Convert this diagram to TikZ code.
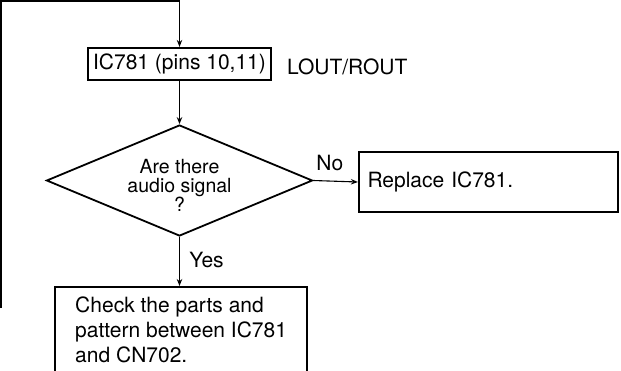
\documentclass[tikz,border=0pt]{standalone}
\usepackage{fontspec}
\setmainfont{TeX Gyre Heros}
\usepackage{tikz}
\usetikzlibrary{calc}
\usetikzlibrary{arrows.meta}
\usetikzlibrary{shapes.geometric}
\tikzset{
 box/.style={draw, line width=2.2pt, inner sep=0},
 flow/.style={line width=1.1pt, -{Stealth[length=7pt,width=5.5pt]}},
}

\begin{document}
\begin{tikzpicture}[x=1pt, y=-1pt, font=\fontsize{21}{25}\selectfont]
\useasboundingbox (0,0) rectangle (621,370);
\node[box, minimum width=183pt, minimum height=32pt] (pins) at (179.5,64) {IC781 (pins 10,11)};
\node[anchor=base west, inner sep=0] (lout) at (287,74) {LOUT/ROUT};
\node[draw, diamond, line width=1.8pt, minimum width=266pt, minimum height=111pt, inner sep=0]
 (sig) at (179.5,180.5) {};
\node[align=center, inner sep=0, font=\fontsize{19.5}{19}\selectfont] (sigtxt) at ($(sig)+(0,5)$)
 {Are there\\audio signal\\?};
\node[box, minimum width=259pt, minimum height=60pt, inner xsep=8.5pt, text width=242pt, align=left]
 (rep) at (488.5,182) {Replace IC781.};
\node[box, anchor=north west, minimum width=252pt, inner ysep=10pt, text depth=20pt, align=left]
 (chk) at (54,286) {Check the parts and\\pattern between IC781\\and CN702.};
\coordinate (back) at (1,308);
\coordinate (top) at (179.5,1);
% connectors
\draw[flow] (back) |- (top) -- (pins.north);
\draw[flow] (pins.south) -- (sig.north);
\draw[flow] (sig.east) -- node[anchor=base, pos=0.37, yshift=11pt] (no) {No} (rep.west);
\draw[flow] (sig.south) -- node[anchor=base west, pos=0.62, xshift=6pt] (yes) {Yes} (sig.south |- chk.north);
\end{tikzpicture}
\end{document}
